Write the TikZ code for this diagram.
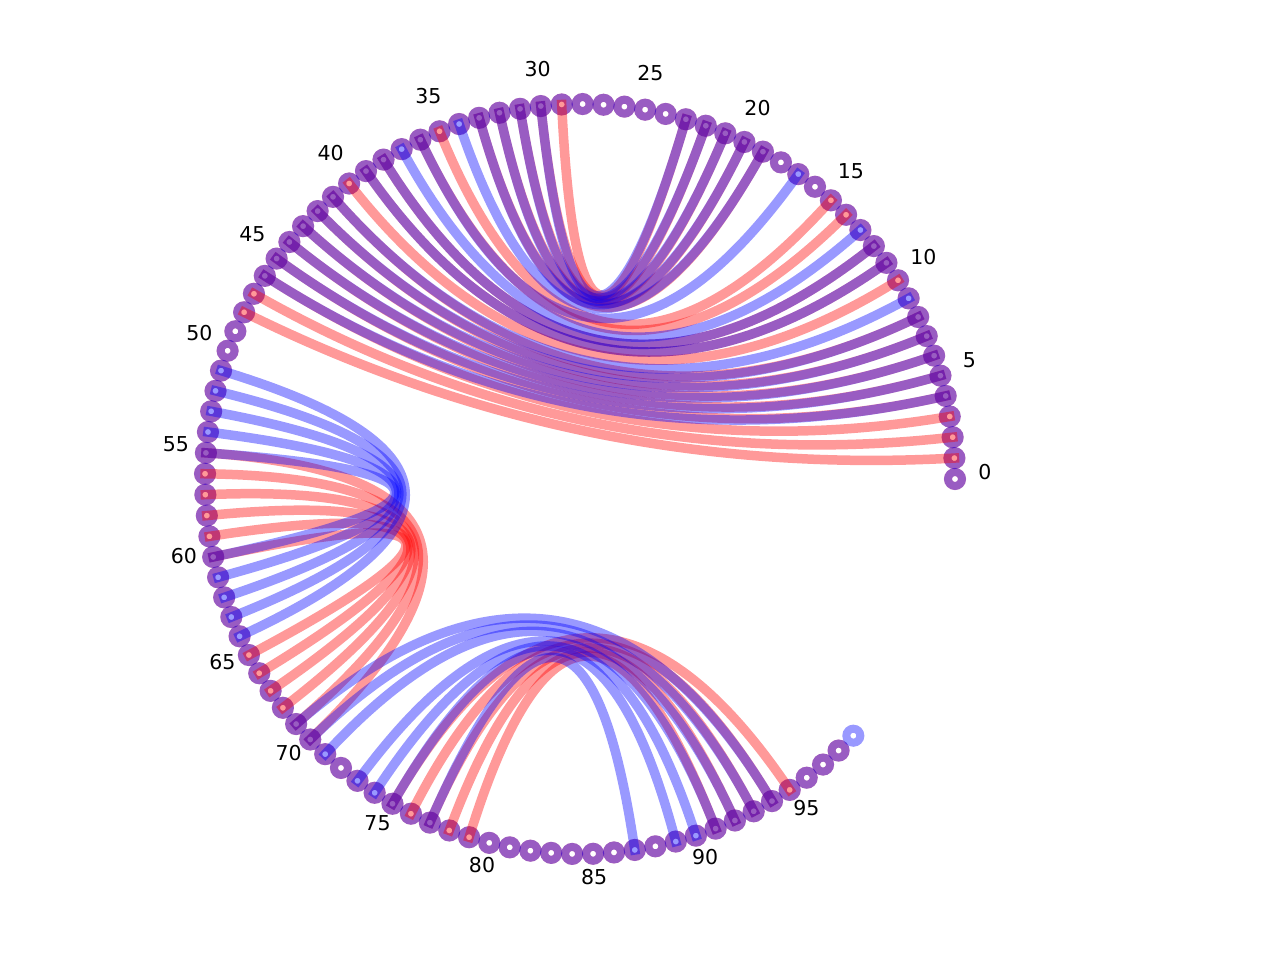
\documentclass[tikz,border=0pt]{standalone}
\usepackage{fontspec}
\setmainfont{DejaVu Sans}
\usetikzlibrary{calc}
\begin{document}
\begin{tikzpicture}[x=1pt,y=-1pt,
  redarc/.style={draw=red, draw opacity=0.4, line width=9.5pt, line cap=rect},
  bluearc/.style={draw=blue, draw opacity=0.4, line width=9.5pt, line cap=rect},
  redring/.style={circle, draw=red, draw opacity=0.4, line width=8pt, minimum size=14pt, inner sep=0pt},
  bluering/.style={circle, draw=blue, draw opacity=0.4, line width=8pt, minimum size=14pt, inner sep=0pt},
  idx/.style={font=\fontsize{20.5}{24}\selectfont, inner sep=0pt}]
\useasboundingbox (0,0) rectangle (1280,960);
\coordinate (ctr) at (580,479);
\foreach \k in {0,...,99}
  \coordinate (p\k) at ({580+375*cos(3.2*\k)},{479-375*sin(3.2*\k)});
% node rings
\foreach \k in {0,...,98}
  \node[redring] (r\k) at (p\k) {};
\foreach \k in {0,...,99}
  \node[bluering] (b\k) at (p\k) {};
% index labels
\foreach \k in {0,5,...,95}
  \node[idx] (l\k) at ({580+405*cos(3.2*\k)},{472-405*sin(3.2*\k)}) {\k};
% red structure
\foreach \a/\b in {23/29,22/30,21/31,20/32,19/33,15/35,14/36,12/38,11/39,10/40,8/41,7/42,6/43,5/44,4/45,3/46,2/47,1/48,
                   60/65,59/66,58/67,57/68,56/69,55/70,
                   79/91,78/92,77/93,76/94,75/95}
  \draw[redarc] (p\a) .. controls ($(p\a)!0.6667!(ctr)$) and ($(p\b)!0.6667!(ctr)$) .. (p\b);
% blue structure
\foreach \a/\b in {23/30,22/31,21/32,20/33,19/34,17/36,13/37,12/38,11/39,9/41,8/42,7/43,6/44,5/45,4/46,
                   55/60,54/61,53/62,52/63,51/64,
                   77/87,75/89,74/90,73/91,71/92,70/93,69/94}
  \draw[bluearc] (p\a) .. controls ($(p\a)!0.6667!(ctr)$) and ($(p\b)!0.6667!(ctr)$) .. (p\b);
\end{tikzpicture}
\end{document}
